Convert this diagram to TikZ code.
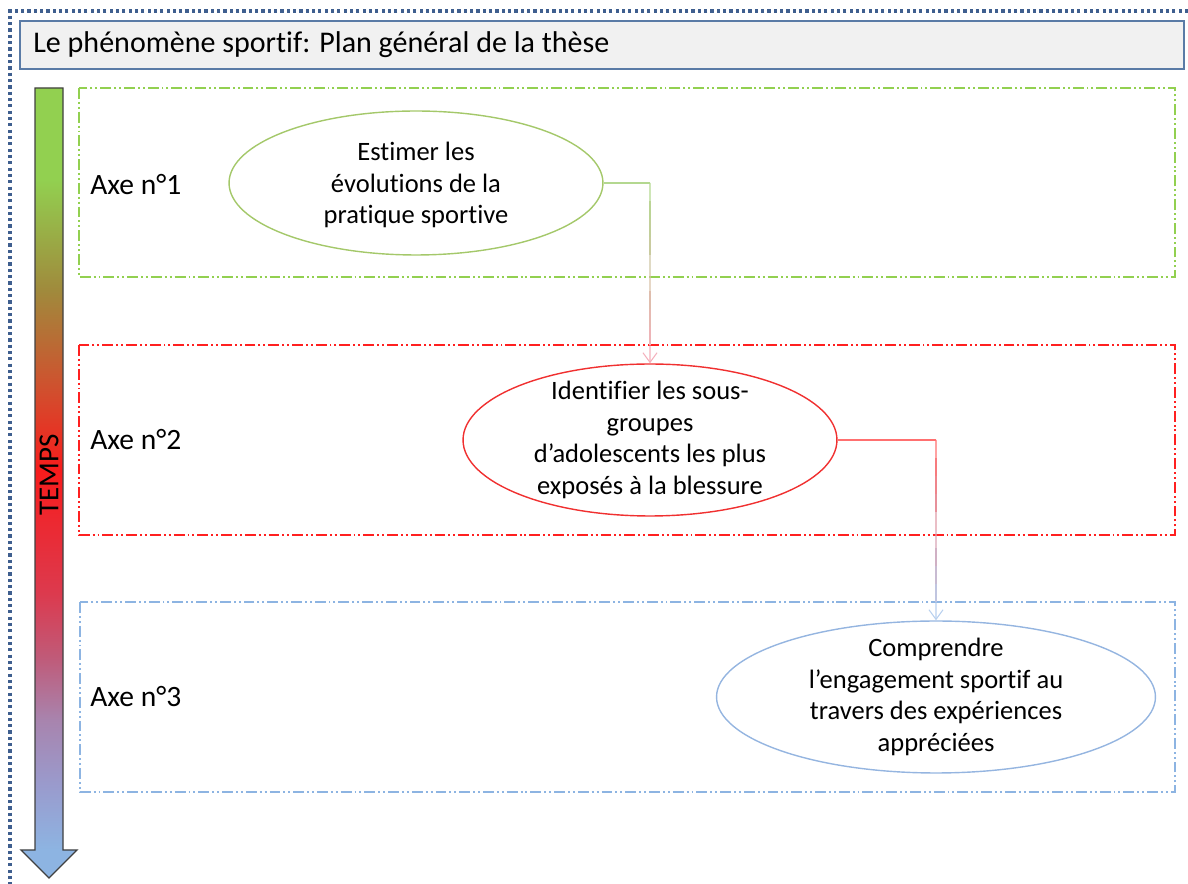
\documentclass[tikz,border=0pt]{standalone}
\usepackage{fontspec}
\setmainfont[Ligatures={NoCommon}]{Carlito}
\usetikzlibrary{arrows.meta,calc,shapes.geometric}
\definecolor{frameB}{HTML}{3F5F8F}
\definecolor{titleBd}{HTML}{5A7BA6}
\definecolor{titleBg}{HTML}{F1F1F1}
\definecolor{boxG}{HTML}{92D050}
\definecolor{boxR}{HTML}{FF2020}
\definecolor{boxB}{HTML}{8DB4E2}
\definecolor{ellG}{HTML}{A4C86A}
\definecolor{ellR}{HTML}{F03030}
\definecolor{ellB}{HTML}{95B5E0}
\definecolor{cG}{HTML}{B4D890}
\definecolor{cP}{HTML}{F4B0BC}
\definecolor{cR}{HTML}{FF7070}
\definecolor{cB}{HTML}{B8D0EE}
\definecolor{arrBd}{HTML}{404040}
\definecolor{sB}{HTML}{8DB4E2}
\definecolor{sBm}{HTML}{9A9ACC}
\definecolor{sM}{HTML}{A884AE}
\definecolor{sPk}{HTML}{C05A78}
\definecolor{sP}{HTML}{DC3A4E}
\definecolor{sR}{HTML}{F81C1C}
\definecolor{sO}{HTML}{D0502E}
\definecolor{sOl}{HTML}{A08A3C}
\definecolor{sG}{HTML}{92D050}
\pgfdeclareverticalshading{tempsshade}{100bp}{color(0bp)=(sB); color(26.8bp)=(sB); color(31bp)=(sBm); color(35bp)=(sM); color(39bp)=(sPk); color(43bp)=(sP); color(50.8bp)=(sR); color(56bp)=(sO); color(62.2bp)=(sOl); color(69.2bp)=(sG); color(100bp)=(sG)}
\tikzset{
  axebox/.style={line width=0.6pt, dash pattern=on 6.2pt off 1.7pt on 1.1pt off 1.7pt on 1.1pt off 1.7pt},
  axelabel/.style={anchor=west, inner sep=0pt, font=\fontsize{16.8}{19}\selectfont},
  ellbase/.style={ellipse, line width=0.8pt, inner sep=0pt},
  etext/.style={align=center, inner sep=0pt, font=\fontsize{15.1}{18.1}\selectfont},
  barb/.style={-{Straight Barb[length=5.5pt, width=8pt]}},
  conn/.style={line width=0.6pt},
}
\begin{document}
\begin{tikzpicture}[x=0.02cm, y=-0.02cm]
\useasboundingbox (0,0) rectangle (1188,884);
% outer dotted frame
\draw[frameB, line width=1.8pt, dash pattern=on 1.8pt off 1.8pt] (1188,11) -- (10,11) -- (10,884);
% title
\draw[titleBd, fill=titleBg, line width=1pt] (20,21) rectangle (1184,69);
\node[anchor=west, inner sep=0pt, font=\fontsize{17.1}{20}\selectfont] (title) at (33,45) {Le phénomène sportif: Plan général de la thèse};
% time arrow
\path[draw=arrBd, line width=0.8pt, shading=tempsshade] (35,88) -- (63,88) -- (63,850) -- (77,850) -- (49,878) -- (21,850) -- (35,850) -- cycle;
\node[rotate=90, inner sep=0pt, font=\fontsize{16.5}{19}\selectfont] (temps) at (49,475) {TEMPS};
% axis boxes
\draw[axebox, boxG] (79,88) rectangle (1175,277);
\draw[axebox, boxR] (79,345) rectangle (1175,535);
\draw[axebox, boxB] (80,602) rectangle (1175,792);
\node[axelabel] (a1) at (90,185) {Axe n°1};
\node[axelabel] (a2) at (90,440) {Axe n°2};
\node[axelabel] (a3) at (90,697) {Axe n°3};
% ellipses
\node[ellbase, draw=ellG, minimum width=7.48cm, minimum height=2.88cm] (e1) at (416,183) {};
\node[etext] (t1) at ([yshift=-0.04cm]e1.center) {Estimer les\\évolutions de la\\pratique sportive};
\node[ellbase, draw=ellR, minimum width=7.48cm, minimum height=3.04cm] (e2) at (650,440) {};
\node[etext] (t2) at (e2.center) {Identifier les sous-\\groupes\\d’adolescents les plus\\exposés à la blessure};
\node[ellbase, draw=ellB, minimum width=8.78cm, minimum height=3.04cm] (e3) at (936,697) {};
\node[etext] (t3) at (e3.center) {Comprendre\\l’engagement sportif au\\travers des expériences\\appréciées};
% connector 1
\coordinate (k1) at (e1.east -| e2.north);
\draw[conn, cG] (e1.east) -- (k1);
\foreach \i in {0,...,8}{
  \pgfmathsetmacro{\p}{100-\i*11.1}
  \pgfmathsetmacro{\j}{\i+1}
  \draw[conn, color=cG!\p!cP] ($(k1)!\i/10!(e2.north)$) -- ($(k1)!\j/10!(e2.north)$);
}
\draw[conn, barb, cP] ($(k1)!0.9!(e2.north)$) -- (e2.north);
% connector 2
\coordinate (k2) at (e2.east -| e3.north);
\draw[conn, cR] (e2.east) -- (k2);
\foreach \i in {0,...,8}{
  \pgfmathsetmacro{\p}{100-\i*11.1}
  \pgfmathsetmacro{\j}{\i+1}
  \draw[conn, color=cR!\p!cB] ($(k2)!\i/10!(e3.north)$) -- ($(k2)!\j/10!(e3.north)$);
}
\draw[conn, barb, cB] ($(k2)!0.9!(e3.north)$) -- (e3.north);
\end{tikzpicture}
\end{document}
